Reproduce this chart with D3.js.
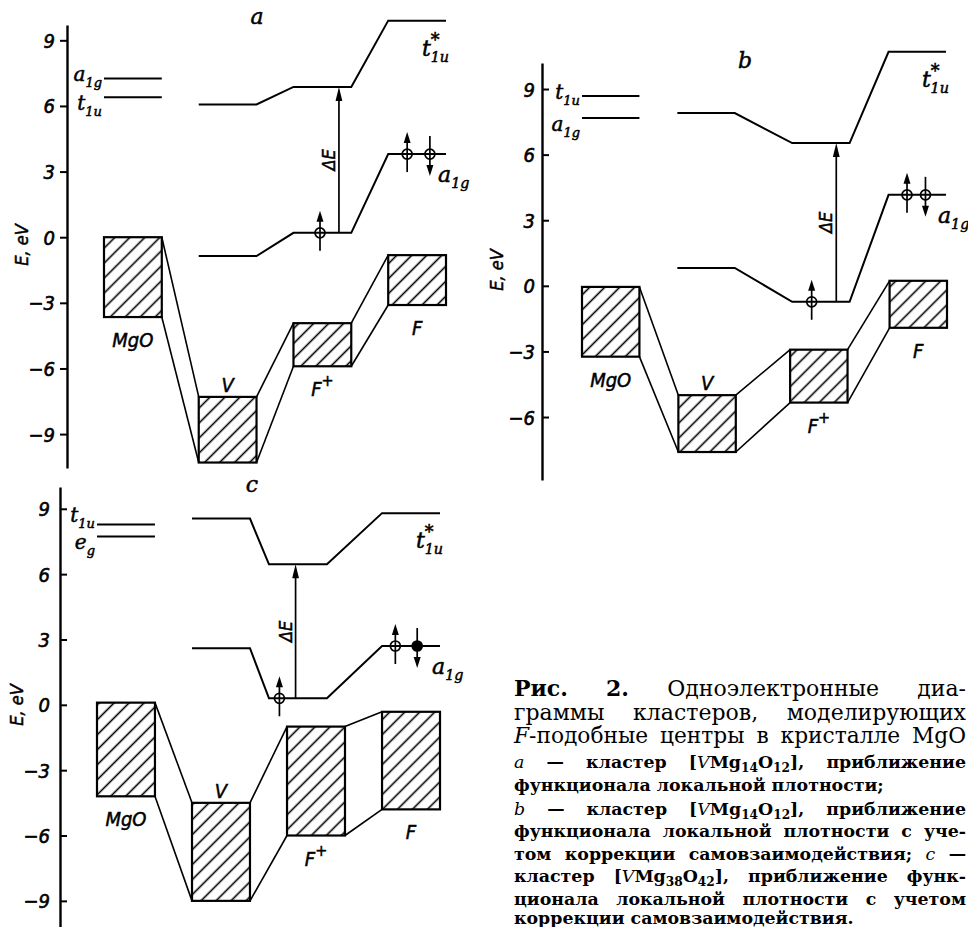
<!DOCTYPE html>
<html>
<head>
<meta charset="utf-8">
<script src="https://cdn.jsdelivr.net/npm/d3@7"></script>
<style>
  body { margin: 0; background: #fff; }
  svg text { fill: #000; }
</style>
</head>
<body>
<svg id="fig" width="968" height="927"></svg>
<script>
// ---- данные (эВ) ----
const SITES = ["MgO", "V", "F+", "F"];
const TICKS = [-9, -6, -3, 0, 3, 6, 9];

// a — [VMg14O12], LDA
const aLeftLevels = [["a", "1g", 7.26], ["t", "1u", 6.4]];
const aBandTop = [0, -7.3, -3.93, -0.82];
const aBandBottom = [-3.65, -10.3, -5.9, -3.1];
const aOccupied = [-0.86, 0.2, 3.8];
const aExcited = [6.07, 6.87, 9.9];
const aGap = [2.48, 0.2, 6.87];                 // позиция, от, до
const aSpins = [[2.28, 0.2, 1], [3.2, 3.8, 1], [3.44, 3.8, -1]];

// b — [VMg14O12], LDA + SIC
const bLeftLevels = [["t", "1u", 8.68], ["a", "1g", 7.67]];
const bBandTop = [-0.05, -5.0, -2.92, 0.23];
const bBandBottom = [-3.24, -7.6, -5.34, -1.92];
const bOccupied = [0.82, -0.73, 4.16];
const bExcited = [7.9, 6.53, 10.7];
const bGap = [2.48, -0.73, 6.53];
const bSpins = [[2.24, -0.73, 1], [3.17, 4.16, 1], [3.35, 4.16, -1]];

// c — [VMg38O42], LDA + SIC
const cLeftLevels = [["t", "1u", 8.28], ["e", "g", 7.73]];
const cBandTop = [0.1, -4.5, -1.0, -0.32];
const cBandBottom = [-4.2, -9.0, -6.0, -4.8];
const cOccupied = [2.6, 0.3, 2.7];
const cExcited = [8.55, 6.45, 8.8];
const cGap = [2.09, 0.3, 6.45];
const cSpins = [[1.92, 0.3, 1], [3.14, 2.7, 1], [3.37, 2.7, -1, "filled"]];

// подпись к рисунку
const captionLines = [
  [["b", "Рис."], ["n", "  "], ["b", "2."], ["n", "  Одноэлектронные  диа-"]],
  [["n", "граммы кластеров, моделирующих"]],
  [["i", "F"], ["n", "-подобные центры в кристалле MgO"]],
  [["i", "a"], ["n", " — кластер ["], ["i", "V"], ["n", "Mg"], ["s", "14"], ["n", "O"], ["s", "12"], ["n", "], приближение"]],
  [["n", "функционала локальной плотности;"]],
  [["i", "b"], ["n", " — кластер ["], ["i", "V"], ["n", "Mg"], ["s", "14"], ["n", "O"], ["s", "12"], ["n", "], приближение"]],
  [["n", "функционала локальной плотности с уче-"]],
  [["n", "том коррекции самовзаимодействия; "], ["i", "c"], ["n", " —"]],
  [["n", "кластер ["], ["i", "V"], ["n", "Mg"], ["s", "38"], ["n", "O"], ["s", "42"], ["n", "], приближение функ-"]],
  [["n", "ционала локальной плотности с учетом"]],
  [["n", "коррекции самовзаимодействия."]]
];
const captionJustified = [1, 1, 1, 1, 0, 1, 1, 1, 1, 1, 0];

// ---- оформление ----
const SANS = '"DejaVu Sans Condensed", "Liberation Sans Narrow", "DejaVu Sans", sans-serif';
const SERIF_IT = '"DejaVu Serif", serif';

const panels = [
  { title: "a", left: aLeftLevels, top: aBandTop, bottom: aBandBottom, occ: aOccupied, exc: aExcited,
    gap: aGap, spins: aSpins, axisX: 67, yRange: [468, 25], eDomain: [-10.55, 9.7],
    xRange: [104, 446], uMax: 3.61, cols: [0, 1, 2, 3], levelCols: [1, 2, 3], w: 0.61,
    tickIn: false, tickPad: 5, titlePos: [257, 24], eLabel: [28, 245], leftDy: [3, 13] },
  { title: "b", left: bLeftLevels, top: bBandTop, bottom: bBandBottom, occ: bOccupied, exc: bExcited,
    gap: bGap, spins: bSpins, axisX: 542, yRange: [480, 63], eDomain: [-8.88, 10.19],
    xRange: [582, 947], uMax: 3.56, cols: [0, 0.94, 2.03, 3], levelCols: [0.93, 2.05, 2.99], w: 0.56,
    tickIn: true, tickPad: 7, titlePos: [745, 68], eLabel: [503, 270], leftDy: [3, 13] },
  { title: "c", left: cLeftLevels, top: cBandTop, bottom: cBandBottom, occ: cOccupied, exc: cExcited,
    gap: cGap, spins: cSpins, axisX: 60, yRange: [927, 487], eDomain: [-10.2, 10.0],
    xRange: [97, 440], uMax: 3.61, cols: [0, 1, 2, 3], levelCols: [1, 1.81, 3], w: 0.61,
    tickIn: true, tickPad: 10, titlePos: [252, 492], eLabel: [23, 705], leftDy: [-2, 13] }
];

const svg = d3.select("#fig");

// штриховка зон
svg.append("defs").append("pattern")
  .attr("id", "hatch")
  .attr("patternUnits", "userSpaceOnUse")
  .attr("width", 10.6).attr("height", 10.6)
  .attr("patternTransform", "rotate(45)")
  .append("line")
  .attr("x1", 5.3).attr("y1", 0).attr("x2", 5.3).attr("y2", 10.6)
  .attr("stroke", "#000").attr("stroke-width", 1.6);

// подпись с верхним/нижним индексом
const symbol = (g, x, y, main, sub, sup, anchor, size, family) => {
  const fs = size || 20;
  const t = g.append("text")
    .attr("x", x).attr("y", y)
    .attr("text-anchor", anchor || "start")
    .attr("font-family", family || SERIF_IT)
    .attr("font-style", "italic")
    .attr("font-size", fs)
    .attr("stroke", "#000").attr("stroke-width", 0.5)
    .text(main);
  let shift = 0;
  if (sup) {
    t.append("tspan").attr("dy", -10).attr("font-size", fs * 0.8).text(sup);
    shift = -10;
  }
  if (sub) {
    t.append("tspan")
      .attr("dx", sup ? -9 : 0)
      .attr("dy", 6 - shift)
      .attr("font-size", fs * 0.65)
      .text(sub);
  }
  return t;
};

panels.forEach((p) => {
  const y = d3.scaleLinear().domain(p.eDomain).range(p.yRange);
  const x = d3.scaleLinear().domain([0, p.uMax]).range(p.xRange);
  const g = svg.append("g");

  // ось энергии
  const ticks = TICKS.filter((t) => t >= p.eDomain[0] && t <= p.eDomain[1]);
  const ax = g.append("g")
    .attr("transform", `translate(${p.axisX},0)`)
    .call(d3.axisLeft(y).tickValues(ticks).tickSizeOuter(0)
      .tickSizeInner(p.tickIn ? -7 : 7).tickPadding(p.tickPad)
      .tickFormat(d3.format("d")));
  ax.select(".domain").attr("stroke-width", 2.4);
  ax.selectAll(".tick line").attr("stroke-width", 2);
  ax.selectAll(".tick text")
    .attr("font-family", SANS).attr("font-style", "italic")
    .attr("font-size", 20).attr("dy", "0.35em")
    .attr("stroke", "#000").attr("stroke-width", 0.6);

  g.append("text")
    .attr("transform", `translate(${p.eLabel[0]},${p.eLabel[1]}) rotate(-90)`)
    .attr("text-anchor", "middle")
    .attr("font-family", SANS).attr("font-style", "italic").attr("font-size", 18)
    .attr("stroke", "#000").attr("stroke-width", 0.5)
    .text("E, eV");

  g.append("text")
    .attr("x", p.titlePos[0]).attr("y", p.titlePos[1])
    .attr("text-anchor", "middle")
    .attr("font-family", SERIF_IT).attr("font-style", "italic").attr("font-size", 22)
    .attr("stroke", "#000").attr("stroke-width", 0.5)
    .text(p.title);

  // зоны (заштрихованные прямоугольники)
  const bw = x(p.w) - x(0);
  g.selectAll("rect.band").data(SITES).join("rect")
    .attr("class", "band")
    .attr("x", (d, i) => x(p.cols[i]))
    .attr("y", (d, i) => y(p.top[i]))
    .attr("width", bw)
    .attr("height", (d, i) => y(p.bottom[i]) - y(p.top[i]))
    .attr("fill", "url(#hatch)")
    .attr("stroke", "#000").attr("stroke-width", 2.2);

  // соединительные линии между зонами
  const links = [];
  d3.range(SITES.length - 1).forEach((i) => {
    links.push([[p.cols[i] + p.w, p.top[i]], [p.cols[i + 1], p.top[i + 1]]]);
    links.push([[p.cols[i] + p.w, p.bottom[i]], [p.cols[i + 1], p.bottom[i + 1]]]);
  });
  const line = d3.line().x((d) => x(d[0])).y((d) => y(d[1]));
  g.selectAll("path.link").data(links).join("path")
    .attr("class", "link").attr("d", line)
    .attr("fill", "none").attr("stroke", "#000").attr("stroke-width", 1.6);

  // подписи зон
  SITES.forEach((s, i) => {
    const cx = x(p.cols[i] + p.w / 2);
    const isV = s === "V";
    const yy = isV ? y(p.top[i]) - 5 : y(p.bottom[i]) + 30;
    const main = s === "F+" ? "F" : s;
    symbol(g, cx, yy, main, null, s === "F+" ? "+" : null, "middle", 20, SANS);
  });

  // уровни чистого MgO слева
  p.left.forEach(([name, sub, e], k) => {
    g.append("path")
      .attr("d", line([[0, e], [p.w, e]]))
      .attr("fill", "none").attr("stroke", "#000").attr("stroke-width", 2);
    symbol(g, x(0) - 2, y(e) + p.leftDy[k], name, sub, null, "end", 20);
  });

  // уровни дефекта: занятый a1g и возбуждённый t1u*
  const levelPts = (es) => es.flatMap((e, i) => [[p.levelCols[i], e], [p.levelCols[i] + p.w, e]]);
  [p.occ, p.exc].forEach((es) => {
    g.append("path").attr("d", line(levelPts(es)))
      .attr("fill", "none").attr("stroke", "#000").attr("stroke-width", 2);
  });
  const fRight = x(p.levelCols[2] + p.w);
  symbol(g, fRight - 24, y(p.exc[2]) + 35, "t", "1u", "*", "start", 22);
  symbol(g, fRight - 8, y(p.occ[2]) + 28, "a", "1g", null, "start", 22);

  // стрелка ΔE
  const [gu, g0, g1] = p.gap;
  const gx = x(gu);
  g.append("line")
    .attr("x1", gx).attr("x2", gx).attr("y1", y(g0)).attr("y2", y(g1) + 10)
    .attr("stroke", "#000").attr("stroke-width", 1.7);
  g.append("path")
    .attr("d", `M${gx},${y(g1)}L${gx - 3.4},${y(g1) + 14}L${gx + 3.4},${y(g1) + 14}Z`)
    .attr("fill", "#000");
  g.append("text")
    .attr("transform", `translate(${gx - 4},${(y(g0) + y(g1)) / 2}) rotate(-90)`)
    .attr("text-anchor", "middle")
    .attr("font-family", SANS).attr("font-style", "italic").attr("font-size", 18)
    .attr("stroke", "#000").attr("stroke-width", 0.5)
    .text("ΔE");

  // электроны со спином
  p.spins.forEach(([u, e, dir, kind]) => {
    const sx = x(u), sy = y(e);
    const tip = sy - dir * 22;
    const tail = sy + dir * 18;
    g.append("line")
      .attr("x1", sx).attr("x2", sx).attr("y1", tail).attr("y2", tip + dir * 8)
      .attr("stroke", "#000").attr("stroke-width", 1.7);
    g.append("path")
      .attr("d", `M${sx},${tip}L${sx - 3.5},${tip + dir * 11}L${sx + 3.5},${tip + dir * 11}Z`)
      .attr("fill", "#000");
    g.append("circle")
      .attr("cx", sx).attr("cy", sy).attr("r", 5)
      .attr("fill", kind === "filled" ? "#000" : "none")
      .attr("stroke", "#000").attr("stroke-width", 1.7);
  });
});

// ---- подпись к рисунку ----
const capX = 514, capRight = 966;
const capBaselines = [696, 720, 743, 768, 791, 815, 837, 860, 882, 905, 924];
const cap = svg.append("g").attr("font-family", '"DejaVu Serif", serif');

const capTexts = captionLines.map((parts, li) => {
  const big = li < 3;
  const t = cap.append("text")
    .attr("x", capX).attr("y", capBaselines[li])
    .attr("font-size", big ? 22 : 16)
    .attr("font-weight", big ? "normal" : "bold")
    .style("white-space", "pre");
  let lowered = false;
  parts.forEach(([kind, str]) => {
    const s = t.append("tspan").text(str);
    if (kind === "b") s.attr("font-weight", "bold");
    if (kind === "i") s.attr("font-style", "italic").attr("font-weight", "normal");
    if (kind === "s") {
      s.attr("font-size", "0.7em").attr("dy", lowered ? 0 : 4);
      lowered = true;
    } else if (lowered) {
      s.attr("dy", -4);
      lowered = false;
    }
  });
  return t;
});

// мелкий шрифт подбираем по строке «функционала локальной плотности;»
const refWidth = 370;
const small = 16 * refWidth / capTexts[4].node().getComputedTextLength();
capTexts.forEach((t, li) => { if (li >= 3) t.attr("font-size", small); });

// крупные строки тоже не должны вылезать за правый край
capTexts.forEach((t, li) => {
  if (li >= 3) return;
  const natural = t.node().getComputedTextLength();
  if (natural > capRight - capX - 20) t.attr("font-size", 22 * (capRight - capX - 20) / natural);
});

capTexts.forEach((t, li) => {
  if (!captionJustified[li]) return;
  const full = captionLines[li].map((d) => d[1]).join("");
  const spaces = (full.match(/ /g) || []).length;
  const natural = t.node().getComputedTextLength();
  if (spaces) t.attr("word-spacing", Math.max(0, (capRight - capX - natural) / spaces));
});
</script>
</body>
</html>
